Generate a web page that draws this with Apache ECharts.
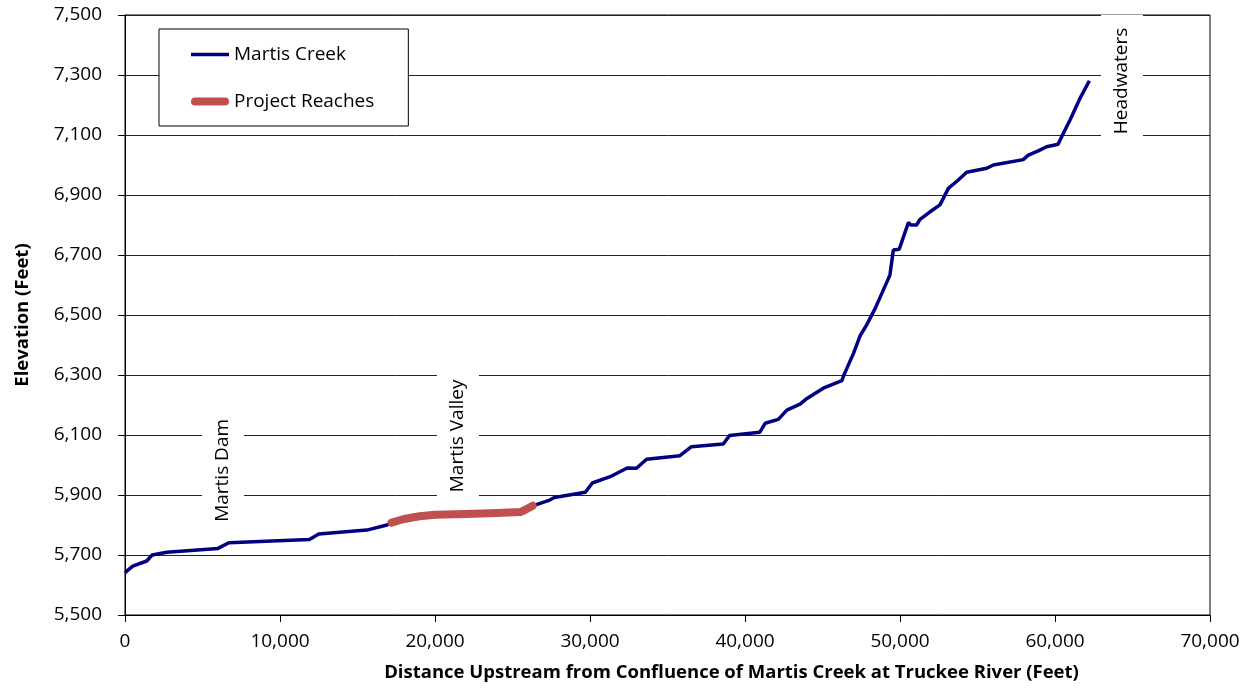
<!DOCTYPE html>
<html>
<head>
<meta charset="utf-8">
<script src="https://cdn.jsdelivr.net/npm/echarts@6/dist/echarts.min.js"></script>
<style>
html,body{margin:0;padding:0;background:#fff;}
#chart{width:1250px;height:688px;}
</style>
</head>
<body>
<div id="chart"></div>
<script>
// Martis Creek profile: distance upstream (ft) and elevation (ft)
const creekDistance = [0, 500, 1400, 1750, 2700, 6000, 6700, 11900, 12500, 15600, 16900, 17200, 18000, 19000, 20000, 22000, 24000, 25500, 25800, 26300, 27400, 27700, 29700, 30150, 31300, 32400, 33000, 33650, 35800, 36550, 38600, 39000, 40950, 41300, 42150, 42700, 43550, 44000, 45050, 46250, 46400, 47000, 47420, 47850, 48400, 49350, 49570, 49950, 50540, 50700, 51070, 51290, 51940, 52580, 53120, 53760, 54300, 55600, 56020, 57950, 58280, 58920, 59460, 60200, 60540, 60970, 61610, 62220];
const creekElevation = [5641, 5663, 5680, 5700, 5709, 5722, 5741, 5752, 5770, 5783, 5800, 5808, 5820, 5829, 5834, 5837, 5840, 5843, 5850, 5864, 5883, 5892, 5909, 5940, 5961, 5990, 5989, 6019, 6031, 6061, 6070, 6098, 6109, 6139, 6152, 6183, 6203, 6222, 6256, 6281, 6302, 6372, 6430, 6467, 6522, 6633, 6717, 6719, 6808, 6800, 6800, 6819, 6844, 6867, 6922, 6950, 6976, 6989, 7000, 7018, 7033, 7047, 7061, 7069, 7106, 7150, 7222, 7281];

// Project reaches
const reachDistance = [17200, 18000, 19000, 20000, 22000, 24000, 25500, 25800, 26300];
const reachElevation = [5808, 5820, 5829, 5834, 5837, 5840, 5843, 5850, 5864];

// Annotations
const noteNames = ['Martis Dam', 'Martis Valley', 'Headwaters'];
const noteDistance = [6320, 21480, 64320];
const noteElevation = [5982, 6097, 7280];

const seriesNames = ['Martis Creek', 'Project Reaches'];
const xTitle = 'Distance Upstream from Confluence of Martis Creek at Truckee River (Feet)';
const yTitle = 'Elevation (Feet)';

const fmt = v => Number(v).toLocaleString('en-US');
const FONT = 'Open Sans';

const chart = echarts.init(document.getElementById('chart'), null, {renderer: 'canvas'});
chart.setOption({
  animation: false,
  backgroundColor: '#fff',
  textStyle: {fontFamily: FONT},
  grid: {left: 125, right: 40, top: 15, bottom: 73, show: true, borderColor: '#000', borderWidth: 1, backgroundColor: 'transparent'},
  legend: {
    orient: 'vertical',
    left: 159, top: 29,
    padding: [16, 34, 15, 32],
    itemWidth: 38, itemHeight: 14, itemGap: 33 - 5,
    borderColor: '#000', borderWidth: 1, backgroundColor: '#fff',
    textStyle: {fontFamily: FONT, fontSize: 19, color: '#000'},
    data: [
      {name: seriesNames[0], icon: 'path://M0,5.2L38,5.2L38,8.8L0,8.8Z', itemStyle: {color: '#000080'}},
      {name: seriesNames[1], icon: 'path://M4,3L34,3A4,4 0 0 1 34,11L4,11A4,4 0 0 1 4,3Z', itemStyle: {color: '#C0504D'}}
    ]
  },
  xAxis: {
    type: 'value', min: 0, max: 70000, interval: 10000,
    name: xTitle, nameLocation: 'middle', nameGap: 48,
    nameTextStyle: {fontFamily: FONT, fontSize: 18.5, fontWeight: 'bold', color: '#000', padding: [0, 0, 0, 128]},
    axisLine: {show: true, lineStyle: {color: '#000', width: 1}},
    axisTick: {show: true, inside: false, length: 7, lineStyle: {color: '#000'}},
    axisLabel: {formatter: fmt, fontFamily: FONT, fontSize: 19, color: '#000', margin: 17},
    splitLine: {show: false}
  },
  yAxis: {
    type: 'value', min: 5500, max: 7500, interval: 200,
    name: yTitle, nameLocation: 'middle', nameGap: 93,
    nameTextStyle: {fontFamily: FONT, fontSize: 18.5, fontWeight: 'bold', color: '#000'},
    axisLine: {show: true, lineStyle: {color: '#000', width: 1}},
    axisTick: {show: true, inside: false, length: 7, lineStyle: {color: '#000'}},
    axisLabel: {formatter: fmt, fontFamily: FONT, fontSize: 19, color: '#000', margin: 23},
    splitLine: {show: true, lineStyle: {color: '#222', width: 1}}
  },
  series: [
    {
      name: seriesNames[0], type: 'line', symbol: 'none', smooth: false,
      lineStyle: {color: '#000080', width: 3.5},
      itemStyle: {color: '#000080'},
      data: creekDistance.map((d, i) => [d, creekElevation[i]]),
      z: 3
    },
    {
      name: seriesNames[1], type: 'line', symbol: 'none', smooth: false,
      lineStyle: {color: '#C0504D', width: 8, cap: 'round', join: 'round'},
      itemStyle: {color: '#C0504D'},
      data: reachDistance.map((d, i) => [d, reachElevation[i]]),
      z: 4
    },
    {
      name: 'notes', type: 'scatter', symbolSize: 1, silent: true,
      itemStyle: {color: '#fff'},
      label: {
        show: true, position: 'inside', rotate: 90,
        formatter: p => p.name,
        fontFamily: FONT, fontSize: 19, color: '#000', lineHeight: 20,
        textBorderWidth: 0, opacity: 1,
        backgroundColor: '#fff', padding: [11, 13]
      },
      data: noteNames.map((n, i) => ({name: n, value: [noteDistance[i], noteElevation[i]]})),
      z: 5
    }
  ]
});
</script>
</body>
</html>
